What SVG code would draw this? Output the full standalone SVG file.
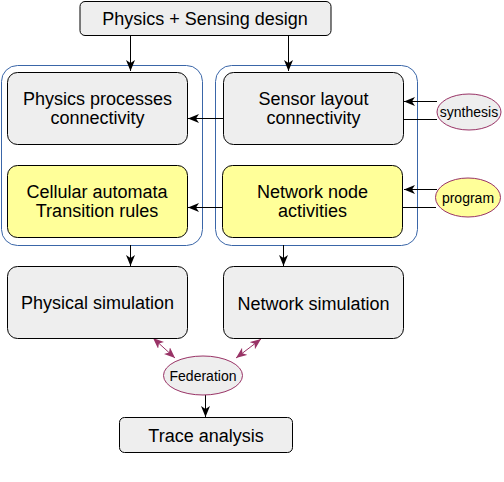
<svg xmlns="http://www.w3.org/2000/svg" width="504" height="482" viewBox="0 0 504 482">
<style>
text{font-family:"Liberation Sans",Arial,sans-serif;fill:#000;text-anchor:middle}
.t{font-size:18px}
.s{font-size:14px}
.box{stroke:#000;stroke-width:1}
.gray{fill:#eeeeee}
.yel{fill:#ffff99}
.cont{fill:none;stroke:#3a66a8;stroke-width:1}
.ell{stroke:#993366;stroke-width:1}
.ln{stroke:#000;stroke-width:1;fill:none}
.pl{stroke:#993366;stroke-width:1;fill:none}
</style>
<defs>
<marker id="ah" markerWidth="11" markerHeight="9" refX="11" refY="4.5" orient="auto" markerUnits="userSpaceOnUse"><path d="M0,0 L11,4.5 L0,9 L3,4.5 Z" fill="#000"/></marker>
<marker id="ph" markerWidth="11" markerHeight="9" refX="11" refY="4.5" orient="auto-start-reverse" markerUnits="userSpaceOnUse"><path d="M0,0 L11,4.5 L0,9 L3,4.5 Z" fill="#993366"/></marker>
</defs>
<g id="containers">
<rect class="cont" x="1.5" y="65.5" width="201" height="180" rx="16"/>
<rect class="cont" x="215.5" y="65.5" width="202" height="180" rx="16"/>
</g>
<g id="connectors">
<line class="ln" x1="130.5" y1="36" x2="130.5" y2="71" marker-end="url(#ah)"/>
<line class="ln" x1="288.5" y1="36" x2="288.5" y2="71" marker-end="url(#ah)"/>
<line class="ln" x1="223" y1="118.5" x2="188" y2="118.5" marker-end="url(#ah)"/>
<line class="ln" x1="223" y1="207.5" x2="188" y2="207.5" marker-end="url(#ah)"/>
<line class="ln" x1="437" y1="101.5" x2="404" y2="101.5" marker-end="url(#ah)"/>
<line class="ln" x1="403" y1="119.5" x2="437" y2="119.5"/>
<line class="ln" x1="437" y1="189.5" x2="404" y2="189.5" marker-end="url(#ah)"/>
<line class="ln" x1="403" y1="207.5" x2="436" y2="207.5"/>
<line class="ln" x1="130.5" y1="245" x2="130.5" y2="266" marker-end="url(#ah)"/>
<line class="ln" x1="283.5" y1="245" x2="283.5" y2="266" marker-end="url(#ah)"/>
<line class="pl" x1="153" y1="338" x2="175" y2="358" marker-start="url(#ph)" marker-end="url(#ph)"/>
<line class="pl" x1="261" y1="339" x2="236" y2="358" marker-start="url(#ph)" marker-end="url(#ph)"/>
<line class="ln" x1="205.5" y1="395" x2="205.5" y2="417" marker-end="url(#ah)"/>
</g>
<g id="design">
<rect class="box gray" x="80" y="1.5" width="251" height="34" rx="5"/>
<text class="t" x="205" y="24.5">Physics + Sensing design</text>
</g>
<g id="physics">
<rect class="box gray" x="7.5" y="72.5" width="180" height="72" rx="10"/>
<text class="t" x="97.5" y="105">Physics processes</text>
<text class="t" x="97.5" y="124">connectivity</text>
</g>
<g id="sensor">
<rect class="box gray" x="223.5" y="72.5" width="180" height="72" rx="10"/>
<text class="t" x="313.5" y="105">Sensor layout</text>
<text class="t" x="313.5" y="124">connectivity</text>
</g>
<g id="cellular">
<rect class="box yel" x="7.5" y="165.5" width="180" height="72" rx="10"/>
<text class="t" x="97" y="197.5">Cellular automata</text>
<text class="t" x="97" y="217">Transition rules</text>
</g>
<g id="netnode">
<rect class="box yel" x="222.5" y="165.5" width="180" height="72" rx="10"/>
<text class="t" x="312.5" y="197.5">Network node</text>
<text class="t" x="312.5" y="217">activities</text>
</g>
<g id="synthesis">
<ellipse class="ell gray" cx="469" cy="112" rx="32" ry="18"/>
<text class="s" x="469" y="116.5">synthesis</text>
</g>
<g id="program">
<ellipse class="ell yel" cx="468" cy="197.5" rx="32.5" ry="19.5"/>
<text class="s" x="468" y="202.5">program</text>
</g>
<g id="physsim">
<rect class="box gray" x="7.5" y="266.5" width="180" height="72" rx="10"/>
<text class="t" x="97.5" y="309">Physical simulation</text>
</g>
<g id="netsim">
<rect class="box gray" x="223.5" y="266.5" width="180" height="72" rx="10"/>
<text class="t" x="313.5" y="310">Network simulation</text>
</g>
<g id="federation">
<ellipse class="ell gray" cx="203" cy="375.5" rx="39.5" ry="19.5"/>
<text class="s" x="203" y="380.5">Federation</text>
</g>
<g id="trace">
<rect class="box gray" x="119.5" y="417.5" width="173" height="35" rx="5"/>
<text class="t" x="206" y="442">Trace analysis</text>
</g>
</svg>
